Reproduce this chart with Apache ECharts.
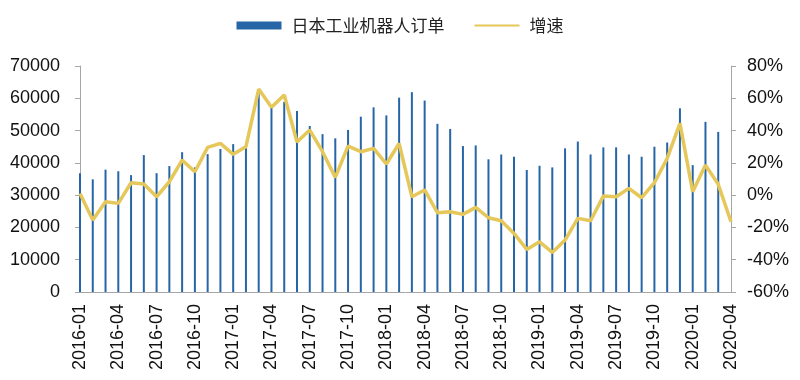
<!DOCTYPE html>
<html>
<head>
<meta charset="utf-8">
<script src="https://cdn.jsdelivr.net/npm/echarts@6/dist/echarts.min.js"></script>
<style>html,body{margin:0;padding:0;background:#fff;}#c{width:800px;height:380px;}</style>
</head>
<body>
<div id="c"></div>
<script>
const categories = [
  '2016-01','2016-02','2016-03','2016-04','2016-05','2016-06','2016-07','2016-08','2016-09','2016-10','2016-11','2016-12',
  '2017-01','2017-02','2017-03','2017-04','2017-05','2017-06','2017-07','2017-08','2017-09','2017-10','2017-11','2017-12',
  '2018-01','2018-02','2018-03','2018-04','2018-05','2018-06','2018-07','2018-08','2018-09','2018-10','2018-11','2018-12',
  '2019-01','2019-02','2019-03','2019-04','2019-05','2019-06','2019-07','2019-08','2019-09','2019-10','2019-11','2019-12',
  '2020-01','2020-02','2020-03','2020-04'
];
const orders = [
  36800,34900,37900,37400,36200,42400,36800,39000,43300,38600,42700,44300,
  45800,45000,61500,57400,58900,56100,51400,48900,47600,50200,54300,57200,
  54700,60200,61900,59300,52100,50500,45200,45400,41100,42600,41900,37800,
  39100,38600,44500,46600,42600,44800,44800,42600,41900,45000,46300,56900,
  39300,52700,49600,null
];
const growth = [
  1,-15.4,-4.1,-5.1,7.7,6.9,-1,8.3,21.7,14.5,29.6,32.1,
  25.3,30.0,65.7,54.4,62.0,32.9,40.3,26.9,11.0,30.4,26.9,29.0,
  19.3,32.0,-1,3.2,-10.9,-10.3,-11.9,-7.6,-14.0,-15.9,-23.7,-33.6,
  -28.9,-35.5,-27.8,-14.4,-15.9,-0.6,-1.0,4.2,-1.6,7.7,22.8,44.5,
  2.1,18.6,6.7,-16.5
];
const leftTicks = {min: 0, max: 70000, interval: 10000};
const rightTicks = {min: -60, max: 80, interval: 20};

const chart = echarts.init(document.getElementById('c'));
const font = '"Liberation Sans", Arial, sans-serif';
const axisGray = '#a6a6a6';
chart.setOption({
  animation: false,
  backgroundColor: '#fff',
  legend: {
    top: 12,
    left: 'center',
    itemWidth: 45,
    itemHeight: 8,
    itemGap: 29,
    textStyle: {fontFamily: '"Noto Sans CJK SC", sans-serif', fontSize: 17, color: '#222', padding: [0, 0, 0, 5]},
    data: [
      {name: '日本工业机器人订单', icon: 'rect'},
      {name: '增速', itemStyle: {opacity: 0}}
    ]
  },
  grid: {left: 80, right: 69, top: 66, bottom: 88},
  xAxis: {
    type: 'category',
    data: categories,
    boundaryGap: false,
    axisLine: {lineStyle: {color: axisGray, width: 1}},
    axisTick: {show: false},
    axisLabel: {interval: 2, rotate: 90, fontFamily: font, fontSize: 18, color: '#111', margin: 12}
  },
  yAxis: [
    {
      type: 'value', min: leftTicks.min, max: leftTicks.max, interval: leftTicks.interval,
      splitLine: {show: false},
      axisLine: {show: true, lineStyle: {color: axisGray}},
      axisTick: {show: true, inside: false, length: 5, lineStyle: {color: axisGray}},
      axisLabel: {fontFamily: font, fontSize: 18, color: '#111', margin: 20, formatter: function (v) { return String(v); }}
    },
    {
      type: 'value', min: rightTicks.min, max: rightTicks.max, interval: rightTicks.interval,
      position: 'right',
      splitLine: {show: false},
      axisLine: {show: true, lineStyle: {color: axisGray}},
      axisTick: {show: true, inside: false, length: 5, lineStyle: {color: axisGray}},
      axisLabel: {fontFamily: font, fontSize: 18, color: '#111', margin: 16, formatter: '{value}%'}
    }
  ],
  series: [
    {
      name: '日本工业机器人订单',
      type: 'bar',
      yAxisIndex: 0,
      data: orders,
      barWidth: 2,
      itemStyle: {color: '#2766a6'}
    },
    {
      name: '增速',
      type: 'line',
      yAxisIndex: 1,
      data: growth,
      symbol: 'none',
      lineStyle: {color: '#e5c75a', width: 3.5},
      itemStyle: {color: '#e5c75a'}
    }
  ]
});
</script>
</body>
</html>
